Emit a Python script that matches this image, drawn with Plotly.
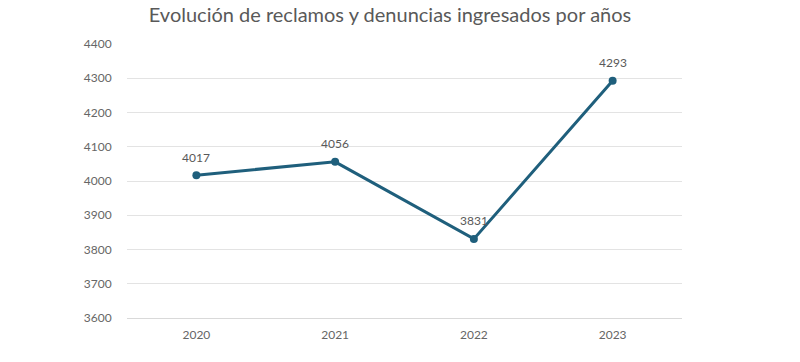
import plotly.graph_objects as go

years = ["2020", "2021", "2022", "2023"]
values = [4017, 4056, 3831, 4293]
y_ticks = [3600, 3700, 3800, 3900, 4000, 4100, 4200, 4300, 4400]

FONT = "Lato, Open Sans, sans-serif"

fig = go.Figure()
fig.add_trace(go.Scatter(
    x=years, y=values, mode="lines+markers",
    line=dict(color="#1f5f7c", width=3),
    marker=dict(color="#1f5f7c", size=8),
    cliponaxis=False, showlegend=False,
))
for i, v in enumerate(values):
    fig.add_annotation(x=i, y=v, xref="x", yref="y", text=str(v), showarrow=False,
                       yshift=18, font=dict(family=FONT, size=12, color="#595959"))

fig.update_layout(
    width=800, height=362,
    margin=dict(l=127, r=118, t=44, b=44),
    paper_bgcolor="white", plot_bgcolor="white",
    title=dict(text="Evolución de reclamos y denuncias ingresados por años",
               x=390/800, xanchor="center", y=1-15/362, yanchor="middle",
               font=dict(family=FONT, size=20, color="#595959")),
    font=dict(family=FONT, color="#595959"),
)
fig.update_xaxes(type="category", range=[-0.5, 3.5], showgrid=False,
                 showline=True, linecolor="#d9d9d9", linewidth=1,
                 ticks="outside", ticklen=6, tickcolor="white",
                 tickfont=dict(size=12, color="#666666"))
fig.update_yaxes(range=[3600, 4400], tickvals=y_ticks, showgrid=True,
                 gridcolor="#e3e3e3", gridwidth=1, zeroline=False, showline=False,
                 ticks="outside", ticklen=12, tickcolor="white",
                 tickfont=dict(size=12, color="#666666"))

fig.write_html("out.html", config={"displayModeBar": False},
               post_script="document.body.style.margin='0';")
